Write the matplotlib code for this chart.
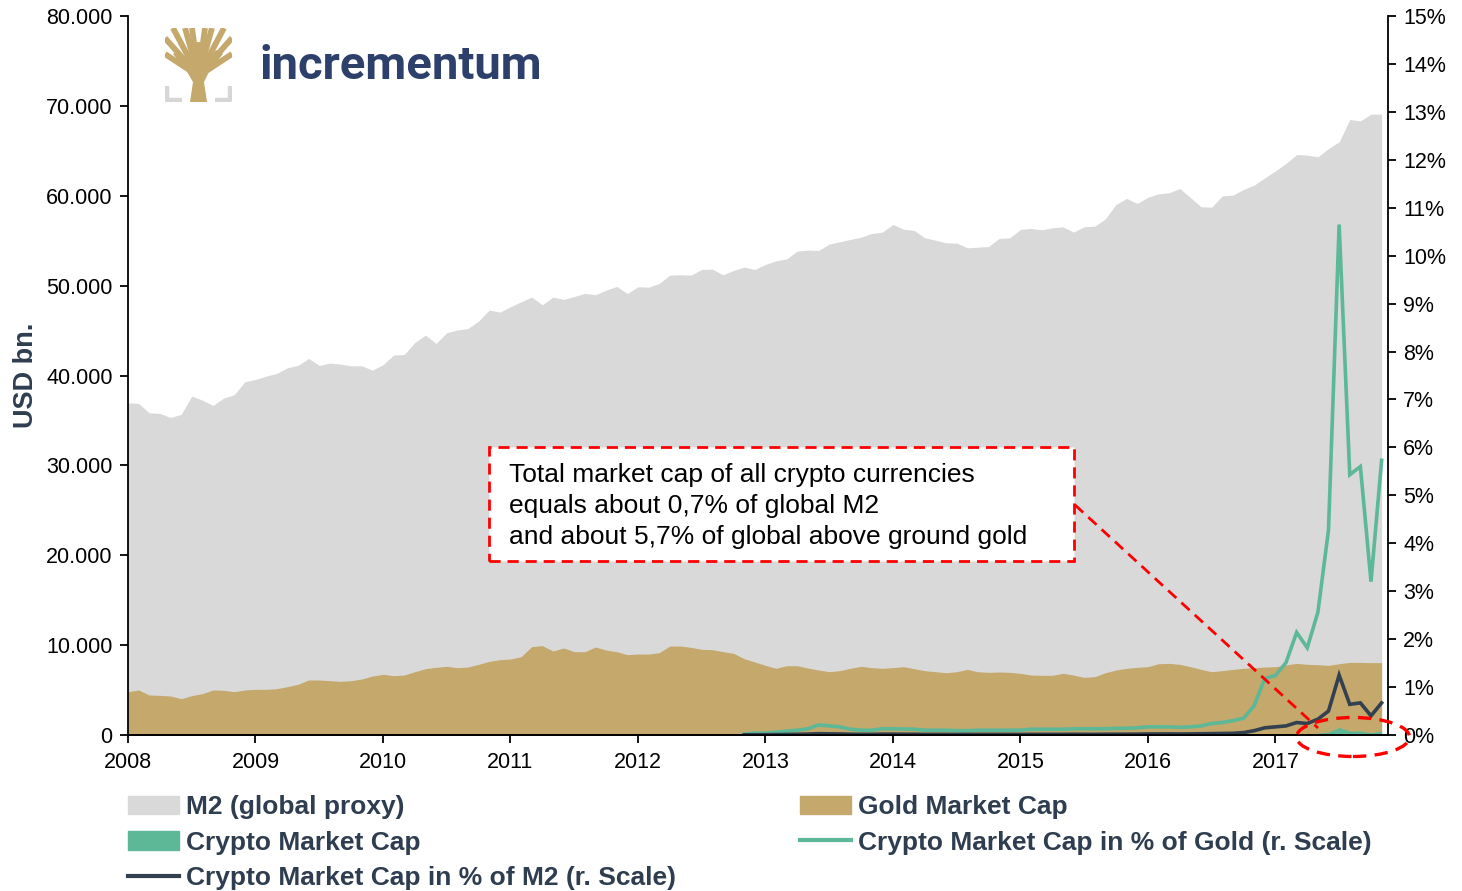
import numpy as np
import matplotlib
matplotlib.use("Agg")
import matplotlib.pyplot as plt
from matplotlib.patches import Patch, Ellipse, Polygon, Rectangle
from matplotlib.lines import Line2D
from matplotlib.ticker import FuncFormatter, MultipleLocator

plt.rcParams['font.family'] = ['Liberation Sans', 'DejaVu Sans']

# monthly values, Jan 2008 - Nov 2017, USD bn
m2 = [36970, 36890, 35850, 35780, 35330, 35670, 37710, 37260, 36670, 37490, 37860, 39310,
      39560, 39930, 40230, 40860, 41120, 41900, 41120, 41380, 41270, 41080, 41080, 40600,
      41190, 42270, 42340, 43680, 44490, 43570, 44760, 45060, 45240, 46050, 47280, 47050,
      47650, 48200, 48720, 47870, 48720, 48460, 48790, 49130, 48980, 49500, 49910, 49130,
      49870, 49830, 50240, 51170, 51210, 51170, 51800, 51840, 51200, 51690, 52060, 51800,
      52360, 52760, 52980, 53840, 53950, 53910, 54620, 54880, 55140, 55390, 55800, 55950,
      56800, 56280, 56140, 55320, 55060, 54760, 54730, 54210, 54280, 54360, 55250, 55320,
      56250, 56360, 56210, 56430, 56540, 55950, 56540, 56620, 57430, 59030, 59700, 59140,
      59840, 60210, 60330, 60810, 59810, 58770, 58730, 59990, 60070, 60700, 61180, 61990,
      62770, 63590, 64590, 64520, 64330, 65260, 66000, 68480, 68330, 69080, 69080]

gold = [4820, 5010, 4450, 4410, 4340, 4040, 4380, 4600, 5010, 4970, 4820, 5010,
        5080, 5080, 5150, 5380, 5640, 6120, 6120, 6040, 5970, 6040, 6230, 6560,
        6750, 6600, 6670, 7040, 7380, 7530, 7640, 7490, 7560, 7860, 8190, 8380,
        8450, 8710, 9830, 9940, 9340, 9680, 9270, 9270, 9790, 9450, 9270, 8940,
        9010, 9010, 9160, 9900, 9900, 9750, 9530, 9490, 9270, 9080, 8490, 8120,
        7750, 7420, 7710, 7710, 7450, 7230, 7040, 7160, 7420, 7640, 7490, 7420,
        7490, 7600, 7380, 7160, 7040, 6930, 7040, 7300, 7040, 6970, 7010, 6970,
        6860, 6670, 6640, 6640, 6860, 6670, 6410, 6490, 6930, 7230, 7420, 7530,
        7600, 7930, 7970, 7860, 7600, 7300, 7040, 7160, 7300, 7420, 7490, 7560,
        7600, 7790, 7970, 7860, 7820, 7750, 7930, 8080, 8080, 8050, 8050]

# Nov 2012 - Nov 2017
crypto_cap = [2, 3, 3, 4, 6, 8, 10, 15, 13, 12, 9, 8, 8, 10, 10, 9, 9, 7, 7, 7,
              6, 7, 7, 7, 7, 7, 7, 8, 8, 8, 8, 9, 8, 8, 9, 10, 10, 11, 13, 13,
              14, 13, 14, 15, 17, 19, 21, 25, 46, 89, 94, 115, 171, 143, 200, 330,
              840, 440, 450, 260, 460]

pct_gold = [0.02, 0.04, 0.04, 0.06, 0.08, 0.10, 0.13, 0.21, 0.19, 0.17,
            0.12, 0.10, 0.10, 0.13, 0.13, 0.125, 0.12, 0.10, 0.10, 0.10,
            0.09, 0.09, 0.10, 0.10, 0.10, 0.10, 0.10, 0.12, 0.12, 0.12,
            0.12, 0.13, 0.13, 0.13, 0.13, 0.14, 0.14, 0.15, 0.17, 0.17,
            0.17, 0.16, 0.17, 0.19, 0.24, 0.26, 0.30, 0.35, 0.61, 1.18,
            1.24, 1.51, 2.14, 1.82, 2.56, 4.28, 10.65, 5.43, 5.60, 3.20, 5.73]

pct_m2 = [0.004, 0.006, 0.006, 0.009, 0.011, 0.015, 0.019, 0.027, 0.024, 0.022,
          0.016, 0.014, 0.014, 0.018, 0.018, 0.016, 0.016, 0.013, 0.013, 0.013,
          0.011, 0.013, 0.013, 0.013, 0.013, 0.013, 0.012, 0.014, 0.014, 0.014,
          0.014, 0.016, 0.014, 0.014, 0.016, 0.017, 0.017, 0.018, 0.022, 0.022,
          0.023, 0.021, 0.023, 0.026, 0.029, 0.032, 0.035, 0.05, 0.09, 0.15,
          0.17, 0.19, 0.26, 0.24, 0.33, 0.50, 1.25, 0.64, 0.67, 0.40, 0.67]

years = ['2008', '2009', '2010', '2011', '2012', '2013', '2014', '2015', '2016', '2017']

legend_labels = ['M2 (global proxy)', 'Crypto Market Cap', 'Crypto Market Cap in % of M2 (r. Scale)',
                 'Gold Market Cap', 'Crypto Market Cap in % of Gold (r. Scale)']

note = ('Total market cap of all crypto currencies\n'
        'equals about 0,7% of global M2\n'
        'and about 5,7% of global above ground gold')

C_M2 = '#d9d9d9'
C_GOLD = '#c4a86c'
C_TEAL = '#5cb897'
C_DARK = '#33404f'
C_TEXT = '#2e3d4f'
C_RED = '#ff0000'

W, H = 1462, 891


def px(x, y):
    # figure pixel (from top-left) -> figure fraction
    return x / W, 1 - y / H


fig = plt.figure(figsize=(W / 100, H / 100), dpi=100)
ax = fig.add_axes([128 / W, (H - 735) / H, 1260 / W, 719 / H])

x = np.arange(len(m2))
x_c = np.arange(len(m2) - len(crypto_cap), len(m2))

ax.fill_between(x, 0, m2, color=C_M2, lw=0)
ax.fill_between(x, 0, gold, color=C_GOLD, lw=0)
ax.fill_between(x_c, 0, crypto_cap, color=C_TEAL, lw=0)

ax.set_xlim(0, 118.6)
ax.set_ylim(0, 80000)
ax.yaxis.set_major_locator(MultipleLocator(10000))
ax.yaxis.set_major_formatter(FuncFormatter(lambda v, p: f'{int(v):,}'.replace(',', '.')))
ax.set_xticks(np.arange(len(years)) * 12)
ax.set_xticklabels(years)

ax2 = ax.twinx()
ax2.plot(x_c, pct_gold, color=C_TEAL, lw=2.6, solid_joinstyle='miter')
ax2.plot(x_c, pct_m2, color=C_DARK, lw=2.6, solid_joinstyle='miter')
ax2.set_ylim(0, 15)
ax2.yaxis.set_major_locator(MultipleLocator(1))
ax2.yaxis.set_major_formatter(FuncFormatter(lambda v, p: f'{int(round(v))}%'))

for a in (ax, ax2):
    a.spines['top'].set_visible(False)
    for s in a.spines.values():
        s.set_linewidth(1.3)
    a.tick_params(direction='out', length=6, width=1.3, labelsize=15.5, pad=5)
ax.spines['right'].set_visible(False)
ax2.spines['left'].set_visible(False)
ax.tick_params(axis='x', pad=6)

ax.set_ylabel('USD bn.', fontsize=19.5, fontweight='bold', color=C_TEXT, labelpad=5)

# annotation box, dashed pointer and ellipse
dash = (0, (4, 2.5))
ax2.add_patch(Rectangle(px(489, 561), 585 / W, 114 / H, transform=fig.transFigure,
                        facecolor='white', edgecolor=C_RED, lw=2, linestyle=dash,
                        zorder=20, clip_on=False))
ax2.text(*px(509, 506), note, transform=fig.transFigure, fontsize=19, va='center',
         ha='left', linespacing=1.37, zorder=21)
p1, p2 = px(1075, 505), px(1318, 728)
ax2.add_line(Line2D([p1[0], p2[0]], [p1[1], p2[1]], transform=fig.transFigure,
                    color=C_RED, lw=2, linestyle=dash, zorder=22, clip_on=False))
ax2.add_patch(Ellipse(px(1353, 737), 113 / W, 39 / H, transform=fig.transFigure,
                      facecolor='none', edgecolor=C_RED, lw=2.4, linestyle=dash,
                      zorder=22, clip_on=False))

# logo
lax = fig.add_axes([165 / W, 1 - 102 / H, 67 / W, 74 / H])
lax.set_xlim(0, 67)
lax.set_ylim(74, 0)
lax.axis('off')
lax.add_patch(Polygon([(25, 74), (42, 74), (39, 54), (45, 42), (58, 26), (51, 22),
                       (38, 38), (36, 42), (35, 14), (31, 14), (31, 42), (28, 38),
                       (14, 22), (8, 26), (21, 42), (28, 54)], closed=True,
                      facecolor=C_GOLD, edgecolor='none'))
for tx, ty in [(0, 10), (8, 0), (20, 0), (27, 0), (40, 0), (47, 0), (59, 0), (67, 10),
               (0, 26), (67, 26)]:
    lax.plot([33.5, tx], [48, ty], color=C_GOLD, lw=4.2, solid_capstyle='butt')
lax.plot([2, 2, 17], [58, 72, 72], color='#d6d6d8', lw=3.2, solid_capstyle='butt')
lax.plot([65, 65, 50], [58, 72, 72], color='#d6d6d8', lw=3.2, solid_capstyle='butt')
fig.text(*px(259, 66), 'incrementum', fontsize=34, fontweight='bold', color='#2d3f6b',
         va='center', ha='left', family=['Roboto', 'DejaVu Sans'])

# legend
handles = [Patch(color=C_M2), Patch(color=C_TEAL), Line2D([], [], color=C_DARK, lw=3),
           Patch(color=C_GOLD), Line2D([], [], color=C_TEAL, lw=3)]
leg = fig.legend(handles, legend_labels, loc='upper left', bbox_to_anchor=px(128, 795),
                 ncol=2, frameon=False, borderpad=0, borderaxespad=0,
                 handlelength=1.95, handletextpad=0.25, columnspacing=4.69,
                 labelspacing=0.44, prop={'size': 19, 'weight': 'bold'}, labelcolor=C_TEXT)

fig.savefig('out.png', dpi=100)
